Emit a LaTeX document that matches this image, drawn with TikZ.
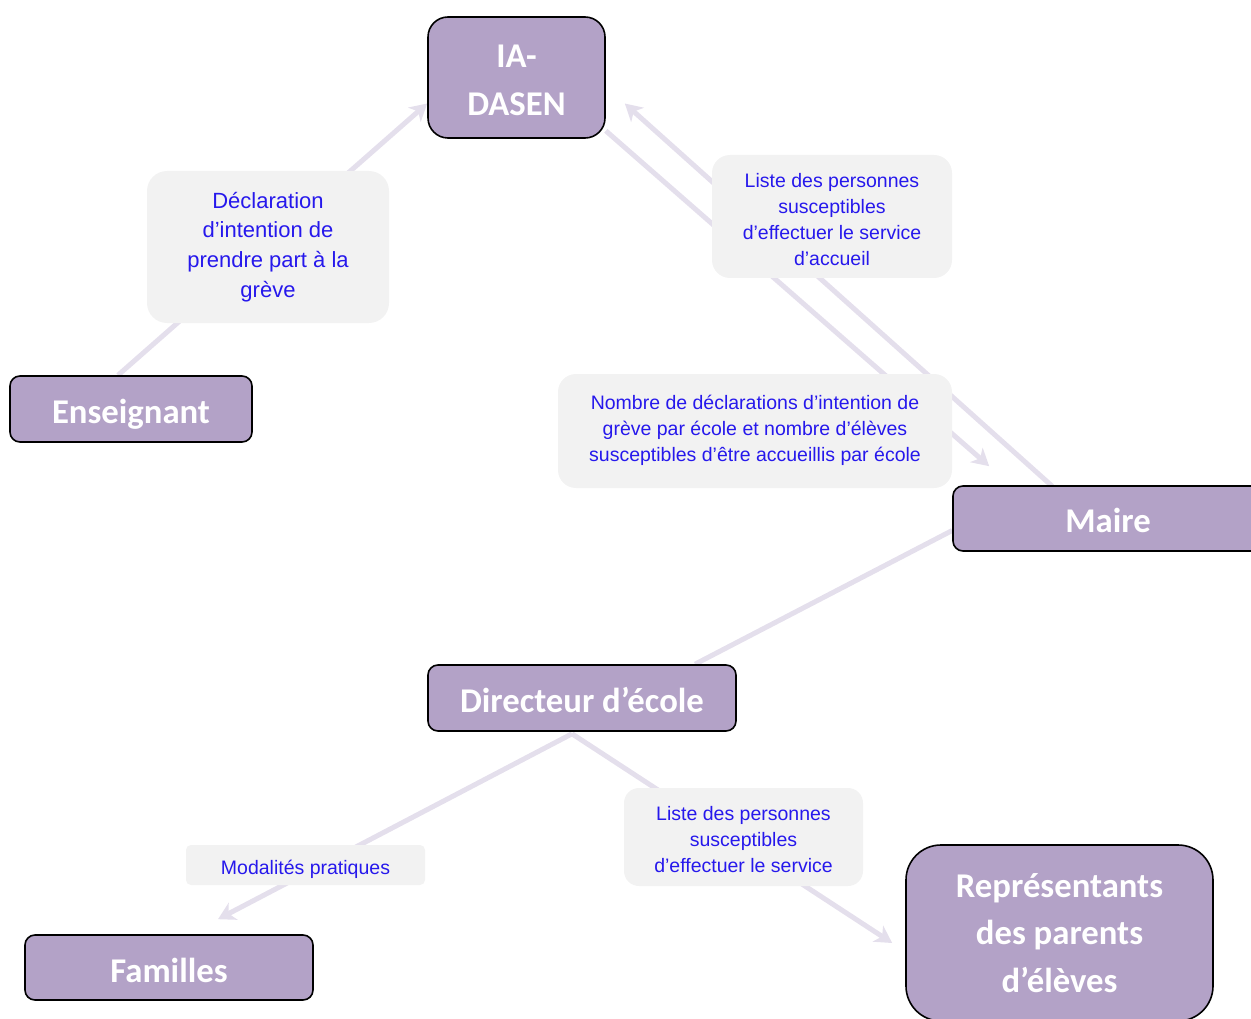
\documentclass[tikz,border=0pt]{standalone}
\usepackage{fontspec}
\setmainfont{Liberation Sans}
\newfontfamily\calib{Carlito}
\usetikzlibrary{arrows.meta,calc,backgrounds}
\definecolor{boxfill}{HTML}{B3A2C7}
\definecolor{lblfill}{HTML}{F2F2F2}
\definecolor{lnk}{HTML}{E4DFEC}
\definecolor{lbltxt}{HTML}{2618EC}
\newcommand\dn[2]{\raisebox{-#1}[\height][\depth]{#2}}
\tikzset{
  actor/.style={draw=black, line width=1.6pt, fill=boxfill, text=white,
    font=\calib\bfseries\fontsize{34.7}{47.7}\selectfont, align=center,
    inner sep=0pt, anchor=center},
  lbl/.style={fill=lblfill, draw=none, text=lbltxt, align=center, inner sep=0pt,
    font=\fontsize{19.5}{26}\selectfont, anchor=center},
  link/.style={draw=lnk, line width=5pt},
  arr/.style={link, -{Stealth[length=17pt,width=19pt,inset=5pt]}}
}
\begin{document}
\begin{tikzpicture}[x=1pt,y=-1pt]
\useasboundingbox (0,0) rectangle (1251,1019);
\clip (0,0) rectangle (1251,1019);
% actors
\node[actor, minimum width=177pt, minimum height=121pt, rounded corners=20pt] (ia) at (516.5,77.5) {\dn{3pt}{IA-}\\\dn{3pt}{DASEN}};
\node[actor, minimum width=242pt, minimum height=66pt, rounded corners=10pt] (ens) at (131,409) {\dn{5pt}{Enseignant}};
\node[actor, minimum width=310pt, minimum height=65pt, rounded corners=10pt] (maire) at (1108,518.5) {\dn{2pt}{Maire}};
\node[actor, minimum width=308pt, minimum height=66pt, rounded corners=10pt] (dir) at (582,698) {\dn{2pt}{Directeur d’école}};
\node[actor, minimum width=288pt, minimum height=65pt, rounded corners=10pt] (fam) at (169,967.5) {\dn{3pt}{Familles}};
\node[actor, minimum width=307pt, minimum height=176pt, rounded corners=35pt] (rep) at (1059.5,933) {Représentants\\des parents\\d’élèves};
% labels
\node[lbl, minimum width=242pt, minimum height=152pt, rounded corners=20pt,
  font=\fontsize{22}{29.7}\selectfont] (l1) at (268,247) {Déclaration\\d’intention de\\prendre part à la\\grève};
\node[lbl, minimum width=240pt, minimum height=123pt, rounded corners=18pt] (l2) at (832,216.5) {\dn{3.5pt}{Liste des personnes}\\\dn{3.5pt}{susceptibles}\\\dn{3.5pt}{d’effectuer le service}\\\dn{3.5pt}{d’accueil}};
\node[lbl, minimum width=394pt, minimum height=114pt, rounded corners=18pt] (l3) at (755,431) {\dn{-1pt}{Nombre de déclarations d’intention de}\\\dn{-1pt}{grève par école et nombre d’élèves}\\\dn{-1pt}{susceptibles d’être accueillis par école}};
\node[lbl, minimum width=239pt, minimum height=40pt, rounded corners=5pt] (l4) at (305.5,865) {\dn{4pt}{Modalités pratiques}};
\node[lbl, minimum width=239pt, minimum height=98pt, rounded corners=15pt] (l5) at (743.5,837) {\dn{3pt}{Liste des personnes}\\\dn{3pt}{susceptibles}\\\dn{3pt}{d’effectuer le service}};
% connector end points
\coordinate (eTop) at ($(ens.north)+(-13,0)$);
\coordinate (iaIn) at ($(ia.west)+(0,26)$);
\coordinate (mTop) at ($(maire.north west)+(100,1)$);
\coordinate (iaR) at ($(ia.east)+(19,26)$);
\coordinate (iaOut) at ($(ia.south east)+(0,-8)$);
\coordinate (mIn) at ($(maire.north west)+(37,-19)$);
\coordinate (mLeft) at ($(maire.west)+(0,12)$);
\coordinate (dTop) at ($(dir.north)+(113,0)$);
\coordinate (dBot) at ($(dir.south)+(-10,2)$);
\coordinate (famIn) at ($(fam.north)+(49,-15)$);
\coordinate (repIn) at ($(rep.west)+(-13,10)$);
% connectors behind everything
\begin{scope}[on background layer]
\draw[arr] (eTop) -- (iaIn);
\draw[arr] (mTop) -- (iaR);
\draw[arr] (iaOut) -- (mIn);
\draw[link] (mLeft) -- (dTop);
\draw[arr] (dBot) -- (famIn);
\draw[arr] (dBot) -- (repIn);
\end{scope}
\end{tikzpicture}
\end{document}
